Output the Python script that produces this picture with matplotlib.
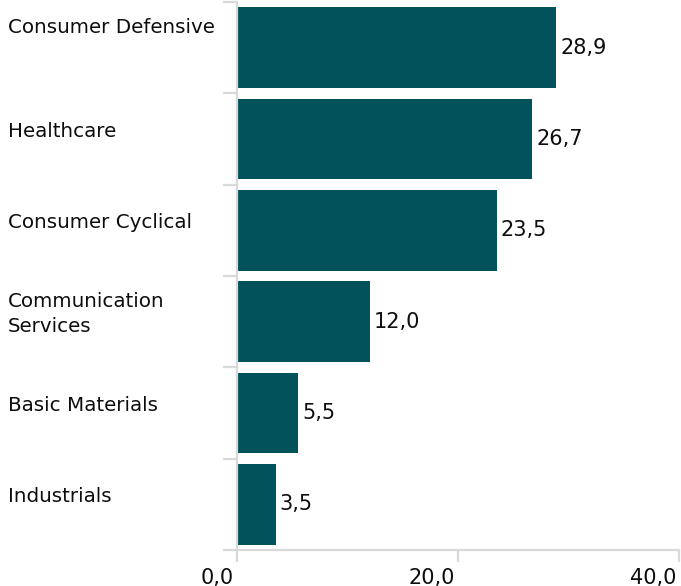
import matplotlib
matplotlib.use("Agg")
import matplotlib.pyplot as plt
import matplotlib.transforms as mtransforms

categories = ["Consumer Defensive", "Healthcare", "Consumer Cyclical",
              "Communication\nServices", "Basic Materials", "Industrials"]
values = [28.9, 26.7, 23.5, 12.0, 5.5, 3.5]
xticks = [0, 20, 40]
xticklabels = ["0,0", "20,0", "40,0"]

W, H = 681, 586
fig = plt.figure(figsize=(W / 100, H / 100), dpi=100)
plt.rcParams['font.family'] = ['DejaVu Sans']
ax = fig.add_axes([237 / W, 1 - 550 / H, (679 - 237) / W, (550 - 2) / H])

bar_color = "#01525A"
grey = "#d9d9d9"
txt = "#0d0d0d"
fs_cat = 14.3
fs_val = 15

y = list(range(len(categories)))
ax.barh(y, values, height=0.885, color=bar_color)
ax.set_xlim(0, 40)
ax.set_ylim(len(categories) - 0.5, -0.5)

for s in ["top", "right"]:
    ax.spines[s].set_visible(False)
for s in ["left", "bottom"]:
    ax.spines[s].set_color(grey)
    ax.spines[s].set_linewidth(1.6)

ax.set_xticks(xticks)
ax.set_xticklabels(xticklabels, fontsize=fs_val, ha="right", color=txt)
ax.tick_params(axis="x", length=8.6, width=1.6, color=grey, pad=4)
for lbl in ax.get_xticklabels():
    lbl.set_transform(lbl.get_transform() + mtransforms.ScaledTranslation(-2 / 72, 0, fig.dpi_scale_trans))

bounds = [i - 0.5 for i in range(len(categories) + 1)]
ax.set_yticks(bounds)
ax.set_yticklabels([])
ax.tick_params(axis="y", length=10, width=1.6, color=grey)

# category labels, left aligned at figure left
blend = mtransforms.blended_transform_factory(fig.transFigure, ax.transData)
offsets = [-0.22, -0.085, -0.085, -0.085, -0.085, -0.085]
for i, (c, off) in enumerate(zip(categories, offsets)):
    fig.text(8 / W, i + off, c, transform=blend, ha="left", va="center",
             fontsize=fs_cat, color=txt, linespacing=1.35)

for i, v in enumerate(values):
    ax.annotate(f"{v:.1f}".replace(".", ","), (v, i), xytext=(3, 0),
                textcoords="offset points", ha="left", va="center",
                fontsize=fs_val, color=txt)

fig.savefig("out.png", dpi=100)
